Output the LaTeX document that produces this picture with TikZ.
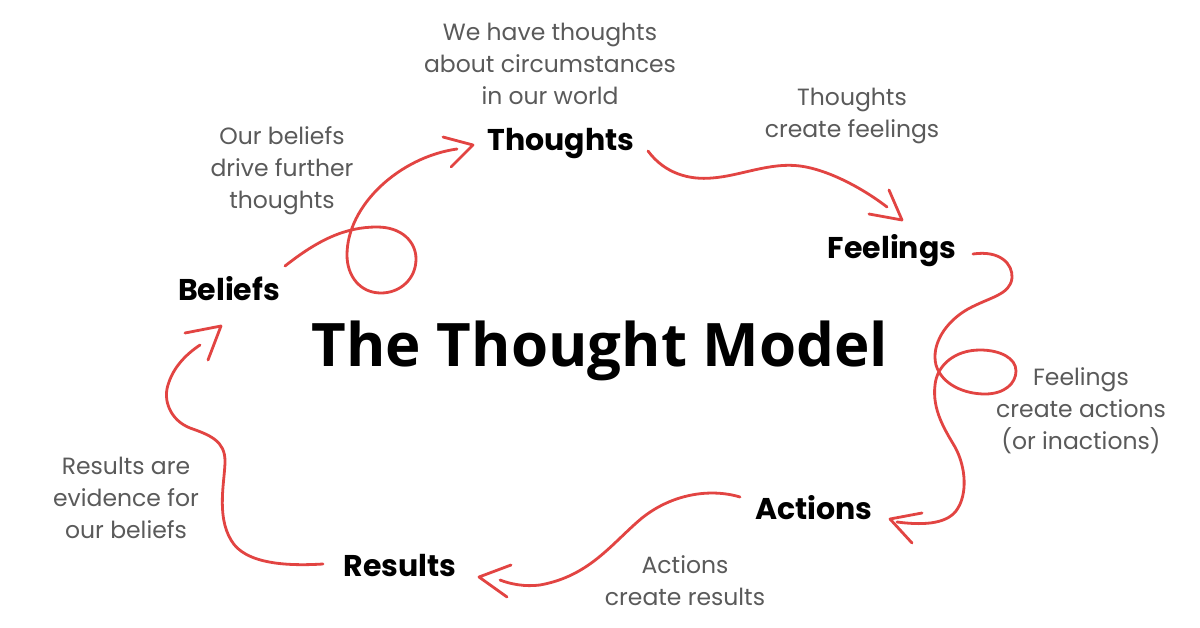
\documentclass[tikz,border=0pt]{standalone}
\usepackage{fontspec}
\setmainfont{Poppins}
\newfontfamily\titlefont{Open Sans}
\definecolor{curvered}{RGB}{226,68,66}
\definecolor{notegray}{RGB}{90,90,90}
\tikzset{
  stage/.style={font={\fontsize{30}{34}\selectfont\bfseries}, text=black, inner sep=0pt},
  note/.style={font={\fontsize{23.5}{32}\selectfont}, text=notegray, align=center, inner sep=0pt},
  flow/.style={draw=curvered, line width=2.8pt, line cap=round, line join=round},
}
\begin{document}
\begin{tikzpicture}[x=1pt,y=-1pt]
\useasboundingbox (0,0) rectangle (1200,627);
\fill[white] (0,0) rectangle (1200,627);

% title
\node[font={\fontsize{60}{70}\titlefont\bfseries}, inner sep=0pt] (title) at (600,351) {The Thought Model};

% stages
\node[stage] (thoughts) at (561,144) {Thoughts};
\node[stage] (feelings) at (892,251) {Feelings};
\node[stage] (actions) at (814,508) {Actions};
\node[stage] (results) at (400,566) {Results};
\node[stage] (beliefs) at (229,289) {Beliefs};

% notes
\node[note] (n1) at (550,64) {We have thoughts\\about circumstances\\in our world};
\node[note] (n2) at (852,116) {Thoughts\\create feelings};
\node[note] (n3) at (1081,411) {Feelings\\create actions\\(or inactions)};
\node[note] (n4) at (685,581) {Actions\\create results};
\node[note] (n5) at (126,498) {Results are\\evidence for\\our beliefs};
\node[note] (n6) at (282,171) {Our beliefs\\drive further\\thoughts};

% connector end points
\coordinate (b0) at (285,266);
\coordinate (b1) at (457,149);
\coordinate (t0) at (648,151);
\coordinate (t1) at (887,207);
\coordinate (f0) at (973,254);
\coordinate (f1) at (897,522);
\coordinate (a0) at (740,497);
\coordinate (a1) at (500,580);
\coordinate (r0) at (323,564);
\coordinate (r1) at (200,345);

% Beliefs -> Thoughts
\draw[flow] (b0) .. controls (318,240) and (345,227) .. (377,227)
  .. controls (402,227) and (416,242) .. (416,259)
  .. controls (416,279) and (400,293) .. (381,293)
  .. controls (360,293) and (347,276) .. (347,255)
  .. controls (347,205) and (400,157) .. (b1);
\draw[flow] (443,137) -- (473,145) -- (451,167);

% Thoughts -> Feelings
\draw[flow] (t0) .. controls (665,174) and (690,180) .. (712,178)
  .. controls (740,176) and (770,162) .. (800,166)
  .. controls (830,170) and (865,190) .. (t1);
\draw[flow] (889,190) -- (902,220) -- (869,214);

% Feelings -> Actions
\draw[flow] (f0) .. controls (1000,250) and (1013,264) .. (1012,278)
  .. controls (1010,295) and (990,297) .. (968,309)
  .. controls (945,322) and (931,345) .. (936,365)
  .. controls (942,385) and (965,394) .. (985,394)
  .. controls (1005,394) and (1016,383) .. (1016,371)
  .. controls (1016,358) and (1000,350) .. (980,350)
  .. controls (955,350) and (937,365) .. (935,385)
  .. controls (932,410) and (945,430) .. (955,447)
  .. controls (966,467) and (968,495) .. (956,511)
  .. controls (945,525) and (920,525) .. (f1);
\draw[flow] (922,513) -- (890,519) -- (912,543);

% Actions -> Results
\draw[flow] (a0) .. controls (710,488) and (672,494) .. (642,518)
  .. controls (612,543) and (590,576) .. (540,585)
  .. controls (525,587) and (510,584) .. (a1);
\draw[flow] (511,565) -- (479,577) -- (507,597);

% Results -> Beliefs
\draw[flow] (r0) .. controls (290,566) and (245,565) .. (231,540)
  .. controls (216,515) and (225,480) .. (225,461)
  .. controls (225,441) and (210,435) .. (190,428)
  .. controls (170,420) and (163,400) .. (168,385)
  .. controls (173,368) and (185,355) .. (r1);
\draw[flow] (185,333) -- (221,326) -- (208,360);
\end{tikzpicture}
\end{document}
